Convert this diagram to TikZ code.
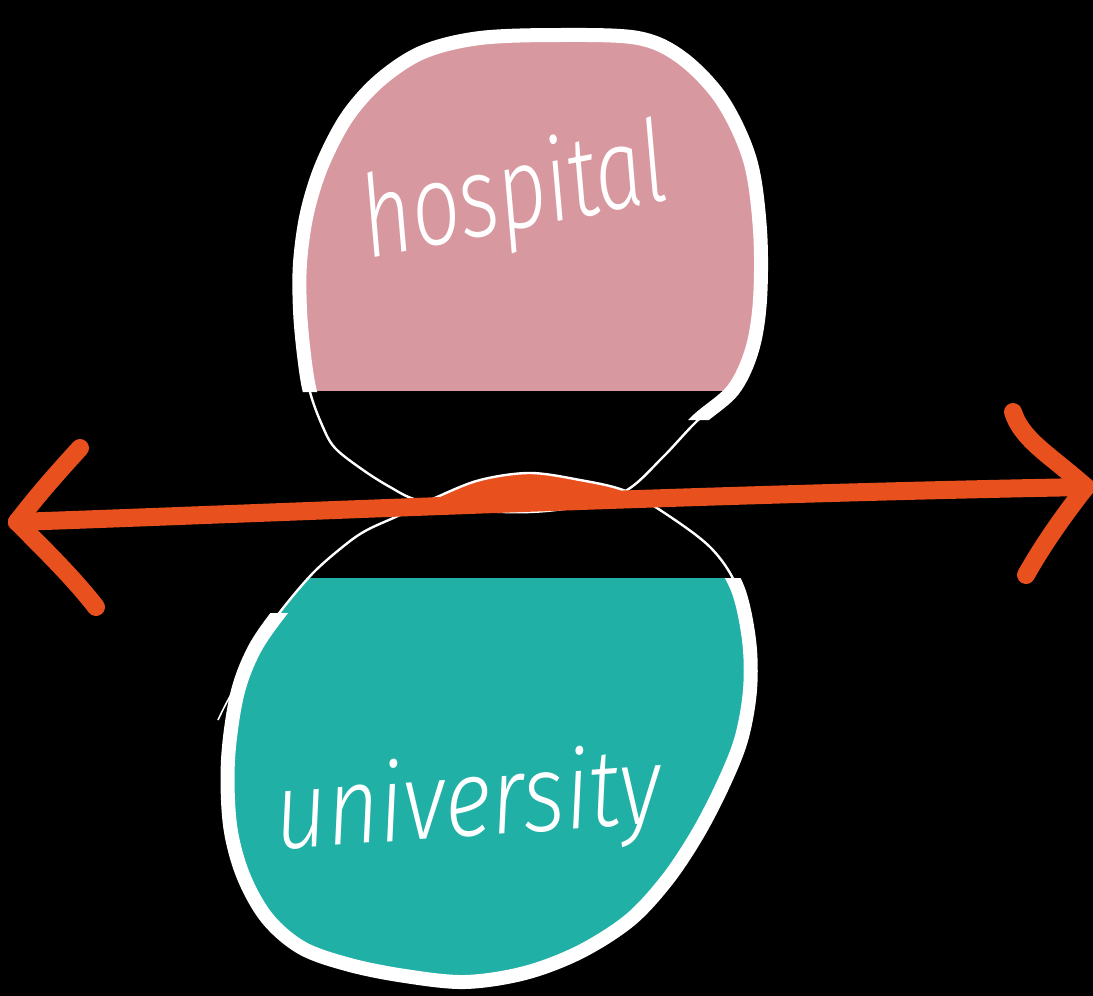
\documentclass[tikz,border=0pt]{standalone}
\usepackage{fontspec}
\newfontfamily\hand{Fira Sans Light Italic}
\definecolor{pinkf}{HTML}{D8989F}
\definecolor{tealf}{HTML}{21B0A6}
\definecolor{orangef}{HTML}{E8501E}
\begin{document}
\begin{tikzpicture}[x=1pt,y=-1pt,
  thinline/.style={draw=white,line width=2.4pt},
  thickline/.style={draw=white,line width=14pt,line join=round},
  arrowline/.style={draw=orangef,line width=18pt,line cap=round,line join=round},
  handtext/.style={text=white,inner sep=0pt,font=\hand\fontsize{95}{95}\selectfont}]
\useasboundingbox (0,0) rectangle (1093,996);
\fill[black] (0,0) rectangle (1093,996);
\def\topshape{plot[smooth cycle,tension=0.55] coordinates {(480,38) (560,35) (638,38) (682,58) (722,100) (750,160) (760,230) (760,300) (752,350) (733,390) (697,421) (663,457) (627,490) (580,506) (530,512) (470,510) (417,500) (390,487) (363,470) (335,448) (322,425) (310,392) (304,355) (300,310) (300,263) (307,213) (322,165) (347,117) (380,80) (423,52)}}
\def\botshape{plot[smooth cycle,tension=0.55] coordinates {(280,612) (313,573) (345,545) (367,530) (400,515) (437,497) (480,480) (530,473) (580,480) (623,490) (660,510) (710,547) (737,587) (749,640) (750,690) (741,740) (722,787) (697,835) (667,880) (630,920) (580,952) (525,973) (465,982) (405,976) (350,965) (302,948) (267,918) (243,875) (230,825) (228,760) (237,695) (254,650)}}
% fills
\begin{scope}
  \clip (0,0) rectangle (1093,390);
  \fill[pinkf] \topshape;
\end{scope}
\begin{scope}
  \clip (0,578) rectangle (1093,996);
  \fill[tealf] \botshape;
\end{scope}
\begin{scope}
  \clip \topshape;
  \fill[orangef] \botshape;
\end{scope}
% thin outlines
\path[thinline] \topshape;
\path[thinline] \botshape;
\coordinate (s1) at (218,720);
\coordinate (s2) at (240,680);
\draw[white,line width=1.6pt] (s1) .. controls (225,705) and (232,692) .. (s2);
% thick outlines
\begin{scope}
  \clip (0,-20) -- (1100,-20) -- (1100,420) -- (540,420) -- (540,392) -- (0,392) -- cycle;
  \path[thickline] \topshape;
\end{scope}
\begin{scope}
  \clip (0,1010) -- (0,613) -- (540,613) -- (540,578) -- (1100,578) -- (1100,1010) -- cycle;
  \path[thickline] \botshape;
\end{scope}
% arrow
\coordinate (L) at (17,522);
\coordinate (R) at (1086,487);
\coordinate (LU) at (80,448);
\coordinate (LD) at (96,607);
\coordinate (RU) at (1013,412);
\coordinate (RD) at (1026,575);
\path[arrowline] (L) .. controls (300,512) and (700,494) .. (R);
\path[arrowline] (L) .. controls (40,492) and (60,470) .. (LU);
\path[arrowline] (L) .. controls (50,555) and (75,580) .. (LD);
\path[arrowline] (R) .. controls (1050,455) and (1022,440) .. (RU);
\path[arrowline] (R) .. controls (1060,520) and (1040,550) .. (RD);
% texts
\node[handtext,rotate=11,xscale=0.9,yscale=1.2] (hosp) at (515,198) {hospital};
\node[handtext,rotate=4,xscale=0.95,yscale=1.15] (univ) at (468,806) {university};
\end{tikzpicture}
\end{document}
